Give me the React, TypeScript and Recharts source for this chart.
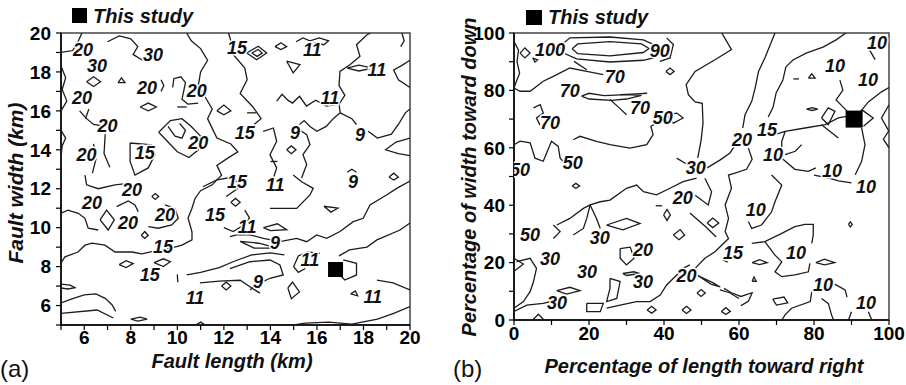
import { ScatterChart, Scatter, XAxis, YAxis, ReferenceArea } from "recharts";

type Pt = [number, number];

const FONT = '"Liberation Sans", Arial, sans-serif';

// ---- axis ticks ----
const lengthTicks = [5, 6, 7, 8, 9, 10, 11, 12, 13, 14, 15, 16, 17, 18, 19, 20];
const widthTicks = [5, 6, 7, 8, 9, 10, 11, 12, 13, 14, 15, 16, 17, 18, 19, 20];
const pctTicks = [0, 10, 20, 30, 40, 50, 60, 70, 80, 90, 100];

// ---- panel (a): contour polylines (fault length km, fault width km) ----
const linesA20: Pt[][] = [
  [[5, 19.0], [5.5, 19.1], [5.75, 19.6], [5.9, 20]],
  [[5, 18.3], [5.2, 17.7], [5.05, 17.1], [5.25, 16.5], [5, 16.0]],
  [[7.0, 19.55], [7.5, 19.85], [8.0, 19.7], [8.3, 19.3], [8.1, 18.9], [8.5, 18.6]],
  [[6.1, 17.5], [6.4, 17.75], [6.7, 17.5], [6.4, 17.25], [6.1, 17.5]],
  [[7.45, 17.45], [7.6, 17.7], [7.75, 17.45], [7.45, 17.45]],
  [[9.3, 17.6], [9.42, 17.3], [9.3, 17.0]],
  [[9.8, 17.2], [9.85, 17.65], [10.15, 17.75], [10.35, 17.45], [10.2, 16.6], [10.45, 16.35], [10.9, 16.4]],
  [[5.8, 16.0], [6.1, 15.6], [6.4, 15.3], [6.9, 15.2]],
  [[6.2, 16.1], [6.05, 15.6]],
  [[8.4, 16.2], [8.75, 16.4], [9.1, 16.2], [8.75, 16.0], [8.4, 16.2]],
  [[5, 15.0], [5.2, 14.6], [5.05, 14.2], [5, 13.6]],
  [[6.4, 14.3], [6.5, 13.5], [6.35, 12.8]],
  [[6.9, 14.8], [6.85, 13.8], [7.1, 13.1]],
  [[7.97, 14.35], [8.9, 14.26], [9.04, 13.75], [8.75, 13.07], [8.18, 12.7], [7.97, 13.4], [7.97, 14.35]],
  [[9.2, 14.9], [9.7, 15.5], [10.2, 15.6], [10.6, 15.2], [11.0, 14.7], [10.9, 14.0], [10.5, 13.6], [10.0, 13.9], [9.6, 14.4], [9.2, 14.9]],
  [[9.6, 15.2], [9.9, 14.7], [10.2, 14.6], [10.35, 15.0], [10.1, 15.35]],
  [[6.03, 12.7], [6.1, 12.2], [6.6, 12.0], [7.32, 12.2], [7.9, 12.28]],
  [[5, 10.74], [5.3, 10.9], [5.74, 10.74], [6.03, 10.48], [6.17, 9.97], [6.6, 9.88]],
  [[6.68, 10.4], [6.96, 10.9], [7.29, 10.4], [7.03, 9.88], [6.68, 10.4]],
  [[7.39, 11.08], [7.89, 11.37], [8.18, 11.17], [8.32, 10.82]],
  [[8.75, 10.05], [9.18, 9.97], [9.76, 10.14], [10.04, 10.48], [9.9, 10.99], [9.47, 11.17]],
  [[8.9, 11.6], [9.05, 11.75], [9.2, 11.6], [9.05, 11.45], [8.9, 11.6]],
  [[8.45, 9.6], [8.6, 9.8], [8.75, 9.6], [8.6, 9.45], [8.45, 9.6]],
];

const linesA15: Pt[][] = [
  [[5, 8.19], [5.17, 8.5], [5.73, 8.75], [6.03, 9.1], [6.33, 9.21], [6.89, 9.1], [7.32, 8.75], [8.05, 8.75], [8.48, 8.65], [9.17, 8.85], [9.77, 8.96], [10.2, 9.1], [10.63, 9.37], [10.63, 9.78], [10.46, 10.5], [10.63, 11.0], [10.76, 11.5], [11.0, 11.9], [11.5, 12.2], [11.9, 12.7], [11.7, 13.2], [12.2, 13.6], [12.6, 13.9], [12.3, 14.3], [11.7, 14.6], [11.5, 15.1], [11.3, 15.6], [11.5, 16.1], [11.2, 16.7], [10.9, 17.3], [11.0, 18.0], [11.3, 18.6], [11.0, 19.2], [10.6, 19.6], [10.4, 20]],
  [[12.2, 20], [12.3, 19.6], [12.4, 18.9], [12.9, 18.2], [13.0, 17.6], [12.7, 16.9], [13.25, 16.2], [13.6, 15.6], [13.3, 15.3]],
  [[12.98, 18.97], [13.48, 19.32], [13.84, 18.97], [13.41, 18.63], [12.98, 18.97]],
  [[13.2, 18.97], [13.48, 19.15], [13.65, 18.97], [13.43, 18.8], [13.2, 18.97]],
  [[11.1, 12.1], [11.7, 12.45], [12.4, 12.6], [12.7, 12.1], [12.1, 11.6]],
  [[12.0, 10.0], [12.4, 9.8], [12.8, 10.1], [13.1, 10.5], [12.9, 10.9]],
  [[12.3, 11.3], [12.5, 11.5], [12.7, 11.3], [12.5, 11.1], [12.3, 11.3]],
  [[10.0, 16.2], [10.4, 16.2]],
  [[13.0, 15.9], [13.4, 15.9]],
  [[11.7, 16.0], [12.0, 16.3], [12.3, 16.0], [12.0, 15.8], [11.7, 16.0]],
  [[5, 7.1], [5.4, 7.05], [5.6, 6.92], [5.3, 6.85], [5, 6.9]],
  [[7.5, 8.1], [7.8, 8.3], [8.1, 8.15], [7.8, 7.95], [7.5, 8.1]],
  [[9.0, 8.2], [9.4, 8.4], [9.7, 8.25], [9.4, 8.0], [9.0, 8.2]],
  [[5, 6.13], [5.5, 6.35], [6.0, 6.55], [6.5, 6.6], [6.9, 6.37], [7.2, 6.03], [7.35, 5.7]],
  [[5, 5.6], [6.55, 5.77], [7.25, 5.36]],
  [[8.0, 5.3], [8.4, 5.4], [8.7, 5.3], [8.3, 5.2], [8.0, 5.3]],
  [[10.8, 5], [11.0, 5.15], [11.2, 5]],
  [[10.0, 7.6], [10.02, 7.2]],
];

const linesA11: Pt[][] = [
  [[14.7, 18.55], [15.27, 18.37], [14.98, 17.95], [14.7, 18.55]],
  [[14.2, 19.3], [14.45, 19.5], [14.7, 19.3], [14.45, 19.15], [14.2, 19.3]],
  [[15.1, 19.55], [15.4, 19.75], [15.7, 19.6], [16.1, 19.75], [16.5, 19.6], [16.3, 19.4], [15.9, 19.5]],
  [[18.3, 20], [18.14, 19.9], [17.7, 19.4], [17.85, 18.8], [17.42, 18.37], [16.99, 18.03], [16.95, 17.3], [17.2, 16.8], [16.95, 16.35], [16.4, 16.25], [15.95, 16.55], [15.55, 16.25], [15.25, 16.75], [14.95, 16.4], [14.75, 16.55], [14.5, 16.85], [14.27, 16.5]],
  [[17.3, 18.2], [17.8, 18.35], [18.4, 18.2], [17.8, 18.05], [17.3, 18.2]],
  [[20, 18.6], [19.6, 18.3], [19.3, 18.1], [19.5, 17.6], [20, 17.2]],
  [[19.65, 20], [19.75, 19.6], [19.6, 19.3]],
  [[16.95, 16.35], [17.0, 15.9], [16.7, 15.6], [16.4, 15.2], [16.0, 14.95], [15.7, 15.2], [15.45, 15.5], [15.25, 15.3]],
  [[17.0, 15.9], [17.5, 15.6], [17.7, 15.3]],
  [[18.2, 14.95], [18.6, 14.6], [19.2, 14.8], [19.5, 15.3], [19.8, 15.9], [20, 16.1]],
  [[20, 14.6], [19.4, 14.4], [18.95, 14.0], [19.5, 13.8], [20, 13.7]],
  [[13.69, 14.95], [14.13, 15.12], [14.27, 14.44], [13.98, 13.75], [14.27, 13.07], [14.13, 12.55]],
  [[15.13, 15.12], [15.56, 14.78], [15.7, 14.26], [15.4, 13.75], [15.56, 13.24], [15.34, 12.55]],
  [[14.7, 14.0], [14.9, 14.2], [15.1, 14.0], [14.9, 13.8], [14.7, 14.0]],
  [[14.0, 13.4], [14.3, 13.4]],
  [[19.1, 12.6], [19.3, 12.8], [19.5, 12.6], [19.3, 12.45], [19.1, 12.6]],
  [[17.3, 12.85], [17.5, 13.0], [17.7, 12.85]],
  [[20, 12.4], [19.43, 12.02], [18.99, 11.68], [18.28, 11.17], [17.99, 10.48], [17.56, 10.31], [16.99, 9.8], [16.42, 9.45], [15.99, 9.63], [15.56, 9.28], [15.13, 9.45], [14.41, 9.28], [13.7, 9.45], [13.12, 9.63], [12.55, 9.63], [12.26, 9.54]],
  [[20, 10.24], [19.57, 9.88], [18.58, 9.37], [18.15, 9.0], [17.4, 8.86], [16.95, 8.55]],
  [[17.13, 8.34], [17.7, 8.17], [17.7, 7.57], [17.2, 7.31], [16.99, 7.57]],
  [[16.13, 8.68], [15.6, 8.75], [15.2, 8.55], [15.0, 8.0], [15.2, 7.7], [15.5, 7.9]],
  [[14.75, 6.9], [14.95, 7.2], [15.25, 6.7], [14.9, 6.35], [14.75, 6.9]],
  [[20, 6.8], [19.27, 7.16], [18.58, 7.3]],
  [[20, 5.95], [19.3, 5.6], [18.6, 5.3], [17.5, 5.05], [16.5, 5.15], [15.5, 5.1], [15, 5.0]],
  [[17.45, 6.6], [17.65, 6.75], [17.75, 6.5], [17.45, 6.6]],
  [[12.26, 7.9], [13.12, 8.25], [13.98, 8.34], [14.41, 8.08], [14.55, 7.57], [13.98, 7.4], [13.41, 7.06], [13.12, 6.8]],
  [[13.7, 10.0], [14.3, 10.2], [14.7, 9.9], [14.0, 9.85], [13.7, 10.0]],
  [[12.7, 9.3], [13.5, 9.2], [14.3, 8.95], [13.3, 8.95], [12.7, 9.3]],
  [[16.3, 11.1], [16.9, 11.0], [16.6, 10.8], [16.3, 11.1]],
  [[13.98, 10.99], [15.13, 10.99], [15.7, 11.68], [15.84, 12.02], [15.34, 12.36], [14.98, 12.7]],
  [[10.4, 7.57], [11.0, 7.7], [11.8, 7.95], [12.5, 8.3], [13.2, 8.6], [14.0, 8.7], [14.6, 8.6]],
  [[10.97, 7.16], [11.8, 7.25], [12.7, 7.3], [13.2, 6.9], [13.55, 6.64]],
  [[11.9, 7.0], [12.1, 7.2], [12.3, 7.0], [12.1, 6.8], [11.9, 7.0]],
];

const labelsA = [
  { x: 5.95, y: 19.13, t: "20" }, { x: 6.55, y: 18.3, t: "30" }, { x: 8.95, y: 18.87, t: "30" },
  { x: 8.7, y: 17.2, t: "20" }, { x: 10.84, y: 17.0, t: "20" }, { x: 5.9, y: 16.66, t: "20" },
  { x: 7.0, y: 15.2, t: "20" }, { x: 10.9, y: 14.35, t: "20" }, { x: 6.1, y: 13.73, t: "20" },
  { x: 8.6, y: 13.84, t: "15" }, { x: 12.56, y: 19.23, t: "15" }, { x: 15.8, y: 19.13, t: "11" },
  { x: 18.58, y: 18.1, t: "11" }, { x: 16.56, y: 16.66, t: "11" }, { x: 12.9, y: 14.86, t: "15" },
  { x: 15.06, y: 14.86, t: "9" }, { x: 17.85, y: 14.76, t: "9" }, { x: 8.05, y: 11.94, t: "20" },
  { x: 6.33, y: 11.27, t: "20" }, { x: 7.88, y: 10.24, t: "20" }, { x: 9.47, y: 10.65, t: "20" },
  { x: 11.62, y: 10.65, t: "15" }, { x: 9.38, y: 9.0, t: "15" }, { x: 8.82, y: 7.57, t: "15" },
  { x: 10.76, y: 6.39, t: "11" }, { x: 12.56, y: 12.35, t: "15" }, { x: 14.2, y: 12.2, t: "11" },
  { x: 17.55, y: 12.35, t: "9" }, { x: 13.0, y: 10.04, t: "11" }, { x: 14.2, y: 9.2, t: "9" },
  { x: 15.7, y: 8.34, t: "11" }, { x: 13.47, y: 7.21, t: "9" }, { x: 18.4, y: 6.44, t: "11" },
];

const studyA = [{ x: 16.8, y: 7.85 }];

// ---- panel (b): contour polylines (% of length, % of width) ----
const linesBHigh: Pt[][] = [
  [[1.6, 93.0], [2.9, 94.8], [4.3, 93.0], [2.9, 91.3], [1.6, 93.0]],
  [[5, 91.3], [6.3, 90.6], [5.6, 89.9], [5, 91.3]],
  [[12.3, 95.4], [14.9, 98.3], [25.6, 98.6], [34.5, 97.6], [38, 95.5], [37.1, 91.3], [34.5, 90.5], [25.6, 89.9], [16.7, 91.0], [13.2, 93.0], [12.3, 95.4]],
  [[15.5, 94.5], [17, 96.2], [25.6, 97], [34, 96.2], [36, 94.6], [34.5, 93.2], [25.6, 92.0], [17, 92.8], [15.5, 94.5]],
  [[40.7, 98.3], [42.5, 96], [41.6, 91.3], [38.9, 90.1]],
  [[0, 97], [1.2, 94], [0.8, 90], [1.5, 86], [0.6, 83], [0, 80.8]],
  [[0, 80.8], [1.6, 79.7], [4.3, 79.7], [7.8, 83.2], [10.5, 84.9], [14.9, 87.8], [19.4, 86.6], [23.8, 85.5]],
  [[16, 90.1], [19.4, 87.2]],
  [[18, 78], [20, 77], [26, 76.5], [30, 77], [34, 78.3], [30, 78.5], [24, 78.2], [20, 79], [18, 78]],
  [[25.6, 76.8], [28, 74], [30, 71.5]],
  [[28.3, 78.5], [32.7, 78.8], [35.5, 79]],
  [[5.2, 73.9], [7, 75], [7.8, 72.1], [6, 70.4], [6.9, 68]],
  [[0, 61.1], [1.6, 62.3], [4.3, 61.7], [5.6, 56.4], [7.8, 55.3], [10.0, 62.3], [11.8, 60.5], [12.3, 56.4], [14.0, 54.1]],
  [[15.8, 62.8], [17.6, 64.0], [22.0, 62.2], [25.6, 61.1], [30.9, 59.9], [35.4, 61.1], [37.1, 64.6], [36.5, 67.5], [38, 68.5]],
  [[40.7, 71.5], [43.4, 72.1], [45.1, 70.4], [42.5, 68.6], [40.7, 71.5]],
  [[43.4, 56.4], [46.2, 54.2]],
  [[40.5, 86.6], [41.6, 87.8], [42.7, 86.6], [41.6, 85.5], [40.5, 86.6]],
];

const linesBMid: Pt[][] = [
  [[55.4, 100], [58.0, 94.2], [53.6, 90.7], [48.3, 86.6], [45.9, 82], [46.5, 78.5], [48.3, 76], [50.2, 75.5], [50.4, 68.6], [49.9, 62.7], [49, 56.5]],
  [[51.5, 53], [55, 55.8], [57.6, 58.2], [59, 61]],
  [[61, 66.9], [61.6, 71.5], [63.4, 76.2], [64.3, 80.8], [65.2, 86.6], [66.9, 91.3], [68.7, 97.1], [69.6, 100]],
  [[62.5, 59.9], [63.5, 56], [62, 52.5], [58.5, 51], [57.2, 50.5], [58.0, 45.9], [56.3, 40.1], [57.2, 35.4], [56.3, 30.8], [57.2, 28.4], [53.6, 23.8], [50.9, 21.5], [48.3, 18.0]],
  [[11.4, 33.1], [14.9, 35.4], [18.5, 38.9], [20.3, 40.1], [23, 41.2], [25.6, 41.8], [30, 45.9], [32.7, 47.0], [34.5, 44.7], [38.0, 43.6], [41.6, 45.9], [45.1, 48.2], [48.7, 49.4]],
  [[20.3, 40.1], [19.4, 35.4], [18.5, 31.9], [15.8, 29.6]],
  [[20.3, 40.1], [22, 35.4], [23, 31.9]],
  [[24.7, 33.1], [30, 35.4], [33.6, 33.6], [29, 31.4], [24.7, 33.1]],
  [[28.3, 24.9], [31, 25.4], [32, 21.5], [30, 19.2], [28.3, 21.5], [28.3, 24.9]],
  [[29, 16.2], [32, 16.8], [33.5, 16.2], [30, 15.5], [29, 16.2]],
  [[25.6, 14.5], [28.3, 13.4], [27.4, 7.5], [24.7, 6.4], [25.6, 11], [25.6, 14.5]],
  [[0.7, 20.3], [4.3, 21.5], [6, 18], [5.2, 13.4], [4.3, 9.9], [2.5, 6.4], [0, 4.1]],
  [[11.4, 10.2], [14.9, 11.4], [17.6, 10.2], [14, 9.0], [11.4, 10.2]],
  [[19.4, 5.8], [23.8, 5.8], [23, 2.9], [19.4, 2.9], [19.4, 5.8]],
  [[24.7, 4.1], [28.3, 5.2], [32.7, 6.4], [36.3, 6.4], [39, 8.7], [40.7, 12.2], [43.4, 15.7], [45.1, 18], [46.9, 19.2]],
  [[35.5, 3.5], [36.7, 4.8], [37.9, 3.5], [36.7, 2.4], [35.5, 3.5]],
  [[0, 21.5], [2.5, 19.5], [0, 17]],
  [[0, 3], [3.4, 5.2], [7.8, 5.8], [10, 6.5]],
  [[5, 0], [6.5, 2], [8, 0]],
  [[15.5, 46.7], [16.5, 47.6], [17.5, 46.7], [16.5, 45.9], [15.5, 46.7]],
  [[42.5, 29.6], [44.3, 31.5], [45.5, 29.6], [44, 28], [42.5, 29.6]],
  [[39.9, 36.6], [40.8, 38.5], [41.7, 36.6], [40.8, 34.7], [39.9, 36.6]],
  [[37.8, 39.8], [39.5, 39.8]],
  [[44.8, 3.5], [46, 4.8], [47.2, 3.5], [46, 2.3], [44.8, 3.5]],
  [[10.5, 33.1], [12.3, 30.8], [10.5, 28.4]],
  [[48.3, 43.5], [51.8, 40.1], [52.7, 44.7], [50.9, 49.4]],
  [[46.9, 37.3], [51.2, 32.4], [53.9, 28.9]],
  [[51.5, 33.8], [53, 35.5], [54.6, 33.8], [53, 32.2], [51.5, 33.8]],
  [[49, 15.5], [53, 13], [55, 11.5], [52.5, 12.5], [49, 15.5]],
  [[54.9, 10.5], [57.5, 9.5], [60, 7.5]],
  [[48.8, 9.4], [49.9, 10.6], [51, 9.4], [49.9, 8.2], [48.8, 9.4]],
  [[55.3, 3], [56.5, 4.3], [57.7, 3], [56.5, 1.9], [55.3, 3]],
  [[55.5, 21], [57, 20.2]],
];

const linesBLow: Pt[][] = [
  [[63.4, 26.7], [66.9, 27.3], [71.4, 30.2], [74.9, 32.5], [77.6, 33.3], [79.8, 33.3], [79.8, 29.6], [79.4, 26.7]],
  [[66.9, 27.3], [69.6, 22.6], [71.4, 20.3], [69.6, 16.8], [71.4, 15.1], [74.9, 15.7], [78.5, 16.8], [78.9, 19.7]],
  [[68.7, 50.5], [71.4, 47.0], [69.6, 41.2], [68.7, 37.7], [66.0, 33.1], [63.4, 31.9], [62.5, 34.3]],
  [[63.5, 20], [65.5, 21], [67.5, 20], [65.5, 19.3], [63.5, 20]],
  [[80.5, 20], [82.8, 21.2], [85.5, 20], [82.8, 19.2], [80.5, 20]],
  [[63.5, 13.5], [64, 15], [64.6, 13.5], [63.5, 13.5]],
  [[69, 7.3], [72, 8], [73, 6], [70, 5.2], [69, 7.3]],
  [[79.4, 9.9], [79.0, 6.4], [74.0, 4.1], [72.3, 1.8], [71.4, 0]],
  [[82.0, 7.5], [83.8, 5.8], [84.7, 1.7], [85.2, 0]],
  [[85.5, 12.5], [88.3, 10.5], [88.8, 8]],
  [[90, 2.9], [89.2, 0]],
  [[94.5, 2.9], [95.4, 0]],
  [[89.2, 33.3], [89.7, 34.2], [90.2, 33.3], [89.7, 32.4], [89.2, 33.3]],
  [[56, 11], [58, 9.5], [60.5, 8.2], [63.5, 9.5], [62.5, 6.5], [60.5, 5]],
  [[80, 50.5], [84, 49.4], [86.5, 48.5], [90, 47.8]],
  [[72.5, 88.2], [71.7, 83.6], [69.9, 79.1], [69.1, 74.2], [67.8, 70.7]],
  [[72.5, 88.2], [74.4, 90.6], [77.9, 93.0], [82.4, 95.1], [85.9, 97.6], [88.5, 100]],
  [[86.9, 83.6], [87.7, 80.1], [85.9, 76.7], [88.5, 73.2], [90.4, 70.5]],
  [[92.7, 66.9], [93.6, 61.1], [92.7, 55.3], [91, 50.6]],
  [[82, 68], [86.5, 63.4]],
  [[92, 72], [94.5, 76], [98, 79.5], [100, 81]],
  [[82, 70.4], [83.8, 73.9], [85.6, 72.7], [83.8, 68.1], [82, 70.4]],
  [[92.7, 73.3], [95.8, 70.4], [93.2, 67.5]],
  [[100, 75], [98, 70.4], [100, 65.7]],
  [[69.5, 64.6], [72.3, 65.7], [77.6, 66.9], [83, 68.1], [86.5, 70.4], [89, 71]],
  [[72.3, 65.7], [71.4, 62.2], [71.4, 56.4], [74.9, 52.5], [78.5, 51.8], [80.5, 53]],
  [[72.3, 57.6], [75, 58.8], [76.7, 61.1]],
  [[74.5, 84], [76, 84]],
  [[78.5, 84.3], [79.4, 85.8], [80.3, 84.3], [78.5, 84.3]],
  [[78, 73.5], [79.5, 74], [81, 73.5], [79.5, 73], [78, 73.5]],
  [[94.5, 94.8], [96.3, 90.7]],
  [[100, 66], [98.5, 63], [100, 60]],
];

const labelsB = [
  { x: 9.6, y: 94, t: "100" }, { x: 38.9, y: 93.7, t: "90" }, { x: 26.9, y: 84.7, t: "70" },
  { x: 14.9, y: 79.8, t: "70" }, { x: 9.6, y: 68.6, t: "70" }, { x: 33.6, y: 73.9, t: "70" },
  { x: 39.7, y: 70.4, t: "50" }, { x: 1.6, y: 52.3, t: "50" }, { x: 15.7, y: 54.7, t: "50" },
  { x: 48.5, y: 52.8, t: "30" }, { x: 60.8, y: 62.7, t: "20" }, { x: 67.5, y: 66.2, t: "15" },
  { x: 69.1, y: 57.5, t: "10" }, { x: 85.6, y: 88.5, t: "10" }, { x: 94.4, y: 83.6, t: "10" },
  { x: 96.8, y: 96.5, t: "10" }, { x: 84.8, y: 51.9, t: "10" }, { x: 93.9, y: 46.4, t: "10" },
  { x: 45, y: 42.5, t: "20" }, { x: 64.5, y: 38.3, t: "10" }, { x: 4.3, y: 29.6, t: "50" },
  { x: 22.9, y: 28.6, t: "30" }, { x: 9.6, y: 21.1, t: "30" }, { x: 34.4, y: 24.4, t: "20" },
  { x: 19.5, y: 16.7, t: "30" }, { x: 34.4, y: 13.2, t: "30" }, { x: 46, y: 15.5, t: "20" },
  { x: 58.4, y: 23.3, t: "15" }, { x: 75.2, y: 23.3, t: "10" }, { x: 82.4, y: 12.2, t: "10" },
  { x: 93.9, y: 5.9, t: "10" }, { x: 11.5, y: 5.9, t: "30" },
];

const studyB = [{ x: 90.7, y: 70.0 }];

// ---- rendering helpers ----
const noDot = () => <g />;

const contourLabel = (p: any) => (
  <text
    x={p.cx}
    y={p.cy}
    textAnchor="middle"
    dominantBaseline="central"
    fontFamily={FONT}
    fontSize={18}
    fontWeight="bold"
    fontStyle="italic"
    fill="#111"
    stroke="#fff"
    strokeWidth={3}
    paintOrder="stroke"
  >
    {p.payload?.t ?? p.t}
  </text>
);

const squareMark = (size: number) => (p: any) => (
  <rect x={p.cx - size / 2} y={p.cy - size / 2} width={size} height={size} fill="#000" />
);

function contourSeries(lines: Pt[][], key: string) {
  return lines.map((ln, i) => (
    <Scatter
      key={key + i}
      data={ln.map(([x, y]) => ({ x, y }))}
      line={{ stroke: "#1c1c1c", strokeWidth: 1.3 }}
      shape={noDot}
      legendType="none"
      isAnimationActive={false}
    />
  ));
}

const tickStyle = { fill: "#000", fontSize: 19, fontWeight: "bold", fontFamily: FONT };

export default function App() {
  return (
    <div style={{ position: "absolute", left: 0, top: 0, width: 906, height: 385, background: "#fff", fontFamily: FONT }}>
      <div style={{ position: "absolute", left: 0, top: 0 }}>
        <ScatterChart width={453} height={385} margin={{ top: 33, right: 43, bottom: 30, left: 21 }}>
          <XAxis
            type="number"
            dataKey="x"
            domain={[5, 20]}
            ticks={lengthTicks}
            allowDataOverflow
            height={30}
            tick={tickStyle}
            tickFormatter={(v: number) => (v % 2 === 0 ? String(v) : "")}
            tickSize={5}
            tickMargin={1}
            axisLine={{ stroke: "#000", strokeWidth: 1.5 }}
            tickLine={{ stroke: "#000", strokeWidth: 1.2 }}
          />
          <YAxis
            type="number"
            dataKey="y"
            domain={[5, 20]}
            ticks={widthTicks}
            allowDataOverflow
            width={40}
            tick={tickStyle}
            tickFormatter={(v: number) => (v % 2 === 0 ? String(v) : "")}
            tickSize={5}
            tickMargin={5}
            axisLine={{ stroke: "#000", strokeWidth: 1.5 }}
            tickLine={{ stroke: "#000", strokeWidth: 1.2 }}
          />
          <ReferenceArea x1={5} x2={20} y1={5} y2={20} fill="none" stroke="#444" strokeWidth={1.5} />
          {contourSeries(linesA20, "a20")}
          {contourSeries(linesA15, "a15")}
          {contourSeries(linesA11, "a11")}
          <Scatter data={labelsA} shape={contourLabel} legendType="none" isAnimationActive={false} />
          <Scatter data={studyA} shape={squareMark(15)} legendType="none" isAnimationActive={false} />
        </ScatterChart>
      </div>
      <div style={{ position: "absolute", left: 453, top: 0 }}>
        <ScatterChart width={453} height={385} margin={{ top: 33, right: 17, bottom: 35, left: 21 }}>
          <XAxis
            type="number"
            dataKey="x"
            domain={[0, 100]}
            ticks={pctTicks}
            allowDataOverflow
            height={30}
            tick={tickStyle}
            tickFormatter={(v: number) => (v % 20 === 0 ? String(v) : "")}
            tickSize={5}
            tickMargin={2}
            axisLine={{ stroke: "#000", strokeWidth: 1.5 }}
            tickLine={{ stroke: "#000", strokeWidth: 1.2 }}
          />
          <YAxis
            type="number"
            dataKey="y"
            domain={[0, 100]}
            ticks={pctTicks}
            allowDataOverflow
            width={40}
            tick={tickStyle}
            tickFormatter={(v: number) => (v % 20 === 0 ? String(v) : "")}
            tickSize={5}
            tickMargin={4}
            axisLine={{ stroke: "#000", strokeWidth: 1.5 }}
            tickLine={{ stroke: "#000", strokeWidth: 1.2 }}
          />
          <ReferenceArea x1={0} x2={100} y1={0} y2={100} fill="none" stroke="#444" strokeWidth={1.5} />
          {contourSeries(linesBHigh, "bh")}
          {contourSeries(linesBMid, "bm")}
          {contourSeries(linesBLow, "bl")}
          <Scatter data={labelsB} shape={contourLabel} legendType="none" isAnimationActive={false} />
          <Scatter data={studyB} shape={squareMark(17)} legendType="none" isAnimationActive={false} />
        </ScatterChart>
      </div>
      <svg width={906} height={385} style={{ position: "absolute", left: 0, top: 0, pointerEvents: "none" }}>
        <g fontFamily={FONT} fontWeight="bold" fontStyle="italic" fill="#111">
          <rect x={72} y={8} width={15} height={15} fill="#000" />
          <text x={93} y={23} fontSize={20}>This study</text>
          <rect x={526} y={10} width={16} height={15} fill="#000" />
          <text x={548} y={24} fontSize={20}>This study</text>
          <text x={232} y={368} fontSize={20} textAnchor="middle">Fault length (km)</text>
          <text x={704} y={373} fontSize={20} textAnchor="middle">Percentage of length toward right</text>
          <text transform="translate(23,183) rotate(-90)" fontSize={21} textAnchor="middle">Fault width (km)</text>
          <text transform="translate(476,177) rotate(-90)" fontSize={20} textAnchor="middle">Percentage of width toward down</text>
        </g>
        <text x={0} y={377} fontSize={24} fontFamily={FONT} fill="#111">(a)</text>
        <text x={453} y={377} fontSize={24} fontFamily={FONT} fill="#111">(b)</text>
      </svg>
    </div>
  );
}
